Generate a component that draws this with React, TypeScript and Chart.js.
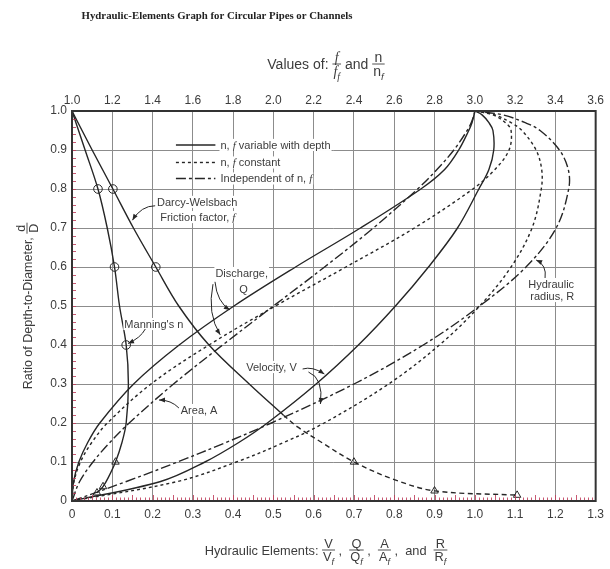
import React, { useEffect, useRef } from "react";
import { Chart, registerables } from "chart.js";
Chart.register(...registerables);

// ---------- data ----------
// depth ratio d/D (y axis) for the hydraulic-element curves (bottom scale)
const depth = [0, 0.05, 0.1, 0.15, 0.2, 0.3, 0.4, 0.5, 0.6, 0.7, 0.8, 0.85, 0.9, 0.95, 0.97, 0.99, 1.0];
const areaA = [0, 0.019, 0.052, 0.094, 0.142, 0.252, 0.374, 0.5, 0.627, 0.748, 0.858, 0.906, 0.948, 0.981, 0.991, 0.998, 1.0];
const radiusR = [0, 0.135, 0.262, 0.382, 0.495, 0.7, 0.872, 1.012, 1.127, 1.202, 1.233, 1.232, 1.21, 1.162, 1.125, 1.07, 1.0];
const velocityConst = [0, 0.262, 0.408, 0.526, 0.626, 0.786, 0.912, 1.012, 1.09, 1.142, 1.165, 1.166, 1.152, 1.117, 1.09, 1.05, 1.0];
const dischargeConst = [0, 0.005, 0.021, 0.049, 0.088, 0.196, 0.34, 0.505, 0.68, 0.85, 0.995, 1.05, 1.085, 1.09, 1.076, 1.045, 1.0];
const velocityVar = [0, 0.22, 0.33, 0.414, 0.485, 0.606, 0.711, 0.803, 0.885, 0.957, 1.01, 1.035, 1.047, 1.045, 1.035, 1.018, 1.0];
const dischargeVar = [0, 0.004, 0.017, 0.039, 0.069, 0.153, 0.266, 0.402, 0.555, 0.716, 0.866, 0.925, 0.96, 0.985, 0.993, 0.998, 1.0];

// Manning's n / n_f (top scale)
const manningDepth = [1.0, 0.9, 0.8, 0.7, 0.6, 0.5, 0.4, 0.3, 0.2, 0.15, 0.1, 0.06, 0.037, 0.021];
const manningN = [1.0, 1.065, 1.129, 1.175, 1.211, 1.236, 1.269, 1.28, 1.269, 1.248, 1.216, 1.18, 1.154, 1.124];
const manningCircleDepth = [0.8, 0.6, 0.4];
const manningCircleN = [1.129, 1.211, 1.269];
const manningTriDepth = [0.1, 0.037, 0.021];
const manningTriN = [1.216, 1.154, 1.124];

// Darcy-Weisbach f / f_f (top scale)
const darcyDepth = [1.0, 0.9, 0.8, 0.7, 0.6, 0.5, 0.4, 0.3, 0.22];
const darcyF = [1.0, 1.1, 1.203, 1.305, 1.416, 1.53, 1.68, 1.88, 2.05];
const darcyLowDepth = [0.22, 0.19, 0.15, 0.1, 0.055, 0.026, 0.015];
const darcyLowF = [2.05, 2.12, 2.24, 2.4, 2.6, 2.8, 3.21];
const darcyCircleDepth = [0.8, 0.6];
const darcyCircleF = [1.203, 1.416];
const darcyTriDepth = [0.1, 0.026, 0.015];
const darcyTriF = [2.4, 2.8, 3.21];

// tick labels
const bottomTicks = ["0", "0.1", "0.2", "0.3", "0.4", "0.5", "0.6", "0.7", "0.8", "0.9", "1.0", "1.1", "1.2", "1.3"];
const topTicks = ["1.0", "1.2", "1.4", "1.6", "1.8", "2.0", "2.2", "2.4", "2.6", "2.8", "3.0", "3.2", "3.4", "3.6"];
const leftTicks = ["0", "0.1", "0.2", "0.3", "0.4", "0.5", "0.6", "0.7", "0.8", "0.9", "1.0"];

// ---------- styling ----------
const SANS = '"Liberation Sans", Arial, Helvetica, sans-serif';
const SERIF = '"Liberation Serif", "Times New Roman", serif';
const INK = "#262626";
const TXT = "#3c3c3c";
const SOLID: number[] = [];
const SHORT = [3, 3];
const DASHDOT = [10, 3, 3, 3];
const LONGDASH = [5, 3.5];

type Seg = { t: string; it?: boolean; sub?: boolean; serif?: boolean };

function drawRuns(ctx: CanvasRenderingContext2D, segs: Seg[], x: number, y: number, size: number, draw = true) {
  let cx = x;
  for (const s of segs) {
    const sz = s.sub ? size * 0.7 : size;
    ctx.font = `${s.it ? "italic " : ""}${sz}px ${s.serif ? SERIF : SANS}`;
    const w = ctx.measureText(s.t).width;
    if (draw) ctx.fillText(s.t, cx, y + (s.sub ? size * 0.3 : 0));
    cx += w;
  }
  return cx - x;
}

function drawFrac(ctx: CanvasRenderingContext2D, num: Seg[], den: Seg[], x: number, mid: number, size: number, draw = true) {
  const wn = drawRuns(ctx, num, 0, 0, size, false);
  const wd = drawRuns(ctx, den, 0, 0, size, false);
  const W = Math.max(wn, wd) + 2;
  if (draw) {
    drawRuns(ctx, num, x + (W - wn) / 2, mid - 2.5, size);
    drawRuns(ctx, den, x + (W - wd) / 2, mid + 2 + size * 0.72, size);
    ctx.beginPath();
    ctx.lineWidth = 0.9;
    ctx.moveTo(x, mid);
    ctx.lineTo(x + W, mid);
    ctx.stroke();
  }
  return W;
}

type Item = { kind: "t"; segs: Seg[] } | { kind: "f"; num: Seg[]; den: Seg[] };

function drawMixed(ctx: CanvasRenderingContext2D, items: Item[], cx: number, mid: number, size: number) {
  const widths = items.map((it) =>
    it.kind === "t" ? drawRuns(ctx, it.segs, 0, 0, size, false) : drawFrac(ctx, it.num, it.den, 0, 0, size, false)
  );
  const total = widths.reduce((a, b) => a + b, 0);
  let x = cx - total / 2;
  items.forEach((it, i) => {
    if (it.kind === "t") drawRuns(ctx, it.segs, x, mid + size * 0.36, size);
    else drawFrac(ctx, it.num, it.den, x, mid, size);
    x += widths[i];
  });
}

function label(ctx: CanvasRenderingContext2D, segs: Seg[], x: number, y: number, size: number) {
  const w = drawRuns(ctx, segs, 0, 0, size, false);
  ctx.save();
  ctx.fillStyle = "#fff";
  ctx.fillRect(x - 1, y - size * 0.55, w + 2, size * 1.1);
  ctx.restore();
  drawRuns(ctx, segs, x, y + size * 0.36, size);
}

function arrow(ctx: CanvasRenderingContext2D, sx: number, sy: number, qx: number, qy: number, ex: number, ey: number) {
  ctx.save();
  ctx.strokeStyle = INK;
  ctx.fillStyle = INK;
  ctx.lineWidth = 1;
  ctx.setLineDash([]);
  ctx.beginPath();
  ctx.moveTo(sx, sy);
  ctx.quadraticCurveTo(qx, qy, ex, ey);
  ctx.stroke();
  const a = Math.atan2(ey - qy, ex - qx);
  const L = 6, H = 2.4;
  ctx.beginPath();
  ctx.moveTo(ex, ey);
  ctx.lineTo(ex - L * Math.cos(a) + H * Math.sin(a), ey - L * Math.sin(a) - H * Math.cos(a));
  ctx.lineTo(ex - L * Math.cos(a) - H * Math.sin(a), ey - L * Math.sin(a) + H * Math.cos(a));
  ctx.closePath();
  ctx.fill();
  ctx.restore();
}

const decorPlugin = {
  id: "decor",
  afterDatasetsDraw(chart: any) {
    const ctx: CanvasRenderingContext2D = chart.ctx;
    const { left, right, top, bottom } = chart.chartArea;
    const xs = chart.scales.x;
    const ys = chart.scales.y;
    const X = (v: number) => xs.getPixelForValue(v);
    const Y = (v: number) => ys.getPixelForValue(v);
    ctx.save();

    // minor red ticks
    ctx.strokeStyle = "rgba(190,60,90,0.85)";
    ctx.lineWidth = 1;
    ctx.setLineDash([]);
    ctx.beginPath();
    for (let i = 1; i < 130; i++) {
      const px = Math.round(X(i / 100)) + 0.5;
      const len = i % 5 === 0 ? 6 : 3.5;
      ctx.moveTo(px, bottom);
      ctx.lineTo(px, bottom - len);
    }
    for (let i = 1; i < 50; i++) {
      const py = Math.round(Y(i / 50)) + 0.5;
      ctx.moveTo(left, py);
      ctx.lineTo(left + 4, py);
    }
    ctx.stroke();

    // frame
    ctx.strokeStyle = "#333";
    ctx.lineWidth = 2;
    ctx.strokeRect(left, top, right - left, bottom - top);

    ctx.fillStyle = TXT;
    ctx.strokeStyle = TXT;
    ctx.textBaseline = "alphabetic";
    ctx.textAlign = "left";

    // main title
    ctx.font = `bold 10.8px ${SERIF}`;
    ctx.fillStyle = "#222";
    const tw = ctx.measureText("Hydraulic-Elements Graph for Circular Pipes or Channels").width;
    ctx.fillText("Hydraulic-Elements Graph for Circular Pipes or Channels", 217 - tw / 2, 19);
    ctx.fillStyle = TXT;

    // top scale title
    drawMixed(
      ctx,
      [
        { kind: "t", segs: [{ t: "Values of: " }] },
        { kind: "f", num: [{ t: "f", it: true, serif: true }], den: [{ t: "f", it: true, serif: true }, { t: "f", it: true, sub: true, serif: true }] },
        { kind: "t", segs: [{ t: " and " }] },
        { kind: "f", num: [{ t: "n" }], den: [{ t: "n" }, { t: "f", it: true, sub: true }] },
      ],
      326,
      64,
      14
    );

    // bottom axis title
    drawMixed(
      ctx,
      [
        { kind: "t", segs: [{ t: "Hydraulic Elements: " }] },
        { kind: "f", num: [{ t: "V" }], den: [{ t: "V" }, { t: "f", it: true, sub: true }] },
        { kind: "t", segs: [{ t: " ,  " }] },
        { kind: "f", num: [{ t: "Q" }], den: [{ t: "Q" }, { t: "f", it: true, sub: true }] },
        { kind: "t", segs: [{ t: " ,  " }] },
        { kind: "f", num: [{ t: "A" }], den: [{ t: "A" }, { t: "f", it: true, sub: true }] },
        { kind: "t", segs: [{ t: " ,  and  " }] },
        { kind: "f", num: [{ t: "R" }], den: [{ t: "R" }, { t: "f", it: true, sub: true }] },
      ],
      326,
      550,
      12.8
    );

    // left axis title (rotated)
    ctx.save();
    ctx.translate(27, (top + bottom) / 2);
    ctx.rotate(-Math.PI / 2);
    drawMixed(
      ctx,
      [
        { kind: "t", segs: [{ t: "Ratio of Depth-to-Diameter, " }] },
        { kind: "f", num: [{ t: "d" }], den: [{ t: "D" }] },
      ],
      0,
      0,
      12.5
    );
    ctx.restore();

    // legend
    const legendRows: { dash: number[]; segs: Seg[]; y: number }[] = [
      { dash: SOLID, segs: [{ t: "n, " }, { t: "f", it: true, serif: true }, { t: " variable with depth" }], y: 0.913 },
      { dash: SHORT, segs: [{ t: "n, " }, { t: "f", it: true, serif: true }, { t: " constant" }], y: 0.868 },
      { dash: DASHDOT, segs: [{ t: "Independent of n, " }, { t: "f", it: true, serif: true }], y: 0.827 },
    ];
    for (const r of legendRows) {
      ctx.save();
      ctx.strokeStyle = INK;
      ctx.lineWidth = 1.4;
      ctx.setLineDash(r.dash);
      ctx.beginPath();
      ctx.moveTo(X(0.258), Y(r.y));
      ctx.lineTo(X(0.356), Y(r.y));
      ctx.stroke();
      ctx.restore();
      label(ctx, r.segs, X(0.3686), Y(r.y), 11);
    }

    // annotations
    const S = 11;
    label(ctx, [{ t: "Darcy-Welsbach" }], X(0.211), Y(0.767), S);
    label(ctx, [{ t: "Friction factor, " }, { t: "f", it: true, serif: true }], X(0.219), Y(0.728), S);
    arrow(ctx, X(0.2064), Y(0.757), X(0.172), Y(0.757), X(0.15), Y(0.72));

    label(ctx, [{ t: "Discharge," }], X(0.356), Y(0.5846), S);
    label(ctx, [{ t: "Q" }], X(0.415), Y(0.5436), S);
    arrow(ctx, X(0.355), Y(0.562), X(0.36), Y(0.51), X(0.392), Y(0.49));
    arrow(ctx, X(0.35), Y(0.556), X(0.335), Y(0.48), X(0.368), Y(0.426));

    label(ctx, [{ t: "Manning's n" }], X(0.13), Y(0.4538), S);
    arrow(ctx, X(0.182), Y(0.441), X(0.17), Y(0.418), X(0.139), Y(0.404));

    label(ctx, [{ t: "Area, A" }], X(0.27), Y(0.2333), S);
    arrow(ctx, X(0.2654), Y(0.2385), X(0.246), Y(0.259), X(0.216), Y(0.259));

    label(ctx, [{ t: "Velocity, V" }], X(0.4324), Y(0.3436), S);
    arrow(ctx, X(0.5725), Y(0.3385), X(0.597), Y(0.346), X(0.6265), Y(0.3256));
    arrow(ctx, X(0.587), Y(0.3308), X(0.625), Y(0.315), X(0.6167), Y(0.2487));

    label(ctx, [{ t: "Hydraulic" }], X(1.1327), Y(0.5564), S);
    label(ctx, [{ t: "radius, R" }], X(1.1376), Y(0.5256), S);
    arrow(ctx, X(1.1744), Y(0.5718), X(1.179), Y(0.605), X(1.1523), Y(0.618));

    ctx.restore();
  },
};

function curve(label: string, xs: number[], ys: number[], dash: number[], axis = "x") {
  return {
    label,
    xAxisID: axis,
    yAxisID: "y",
    data: xs.map((v, i) => ({ x: v, y: ys[i] })),
    showLine: true,
    borderColor: INK,
    borderWidth: 1.4,
    borderDash: dash,
    pointRadius: 0,
    tension: 0.35,
    fill: false,
  };
}

function marks(label: string, xs: number[], ys: number[], style: string, axis = "x2") {
  return {
    label,
    xAxisID: axis,
    yAxisID: "y",
    data: xs.map((v, i) => ({ x: v, y: ys[i] })),
    showLine: false,
    pointStyle: style,
    pointRadius: 4.3,
    borderColor: INK,
    backgroundColor: "rgba(0,0,0,0)",
    pointBorderWidth: 1,
  };
}

export default function App() {
  const ref = useRef<HTMLCanvasElement>(null);
  useEffect(() => {
    const canvas = ref.current!;
    const tickFont = { family: SANS, size: 12 };
    const chart = new Chart(canvas, {
      type: "scatter",
      data: {
        datasets: [
          curve("Area A", areaA, depth, DASHDOT),
          curve("Hydraulic radius R", radiusR, depth, DASHDOT),
          curve("Velocity (n constant)", velocityConst, depth, SHORT),
          curve("Discharge (n constant)", dischargeConst, depth, SHORT),
          curve("Velocity (n variable)", velocityVar, depth, SOLID),
          curve("Discharge (n variable)", dischargeVar, depth, SOLID),
          curve("Manning's n", manningN, manningDepth, SOLID, "x2"),
          curve("Darcy-Weisbach f", darcyF, darcyDepth, SOLID, "x2"),
          curve("Darcy-Weisbach f (low depth)", darcyLowF, darcyLowDepth, LONGDASH, "x2"),
          marks("Manning circles", manningCircleN, manningCircleDepth, "circle"),
          marks("Manning triangles", manningTriN, manningTriDepth, "triangle"),
          marks("Darcy circles", darcyCircleF, darcyCircleDepth, "circle"),
          marks("Darcy triangles", darcyTriF, darcyTriDepth, "triangle"),
        ] as any,
      },
      options: {
        responsive: false,
        animation: false,
        layout: { padding: { left: 0, right: 9, top: 0, bottom: 0 } },
        plugins: { legend: { display: false }, tooltip: { enabled: false }, title: { display: false } },
        scales: {
          x: {
            type: "linear",
            position: "bottom",
            min: 0,
            max: 1.3,
            ticks: { stepSize: 0.1, color: TXT, font: tickFont, padding: 6, maxRotation: 0, callback: (_v: any, i: number) => bottomTicks[i] },
            grid: { color: "#8c8c8c", lineWidth: 1, drawTicks: false },
            border: { display: false },
            afterFit: (s: any) => { s.height = 68; },
          },
          x2: {
            type: "linear",
            position: "top",
            min: 1.0,
            max: 3.6,
            ticks: { stepSize: 0.2, color: TXT, font: tickFont, padding: 3, maxRotation: 0, callback: (_v: any, i: number) => topTicks[i] },
            grid: { display: false, drawTicks: false },
            border: { display: false },
            afterFit: (s: any) => { s.height = 111; },
          },
          y: {
            type: "linear",
            min: 0,
            max: 1,
            ticks: { stepSize: 0.1, color: TXT, font: tickFont, padding: 5, callback: (_v: any, i: number) => leftTicks[i] },
            grid: { color: "#8c8c8c", lineWidth: 1, drawTicks: false },
            border: { display: false },
            afterFit: (s: any) => { s.width = 72; },
          },
        },
      } as any,
      plugins: [decorPlugin],
    });
    return () => chart.destroy();
  }, []);
  return (
    <div style={{ position: "absolute", left: 0, top: 0, width: 610, height: 569, background: "#fff" }}>
      <canvas ref={ref} width={610} height={569} style={{ width: 610, height: 569, display: "block" }} />
    </div>
  );
}
